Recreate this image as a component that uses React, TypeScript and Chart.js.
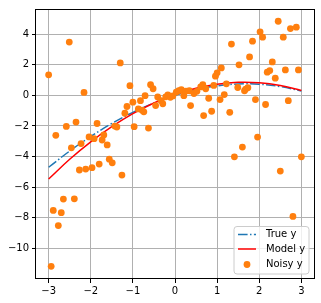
import React, { useEffect, useRef } from "react";
import { Chart, registerables } from "chart.js";

Chart.register(...registerables);

const lineX = [-3, -2.5, -2, -1.5, -1, -0.5, 0, 0.5, 1, 1.5, 2, 2.5, 3];
const trueY = [-4.7, -3.64, -2.69, -1.84, -1.11, -0.5, 0.0, 0.37, 0.62, 0.74, 0.72, 0.57, 0.28];
const modelY = [-5.47, -4.18, -3.04, -2.05, -1.2, -0.5, 0.05, 0.46, 0.73, 0.85, 0.82, 0.64, 0.32];

const noisyX = [
  -3.0, -2.94, -2.89, -2.83, -2.77, -2.7, -2.65, -2.58, -2.51, -2.46, -2.39, -2.35, -2.27, -2.23,
  -2.16, -2.12, -2.04, -1.97, -1.92, -1.85, -1.8, -1.73, -1.69, -1.61, -1.56, -1.49, -1.43, -1.38,
  -1.3, -1.26, -1.19, -1.14, -1.07, -1.0, -0.97, -0.87, -0.82, -0.78, -0.74, -0.71, -0.63, -0.58,
  -0.52, -0.46, -0.41, -0.33, -0.29, -0.22, -0.17, -0.11, -0.05, 0.03, 0.09, 0.15, 0.21, 0.26,
  0.34, 0.37, 0.45, 0.52, 0.61, 0.66, 0.68, 0.73, 0.8, 0.87, 0.92, 0.96, 1.0, 1.07, 1.1, 1.17,
  1.22, 1.3, 1.34, 1.41, 1.49, 1.52, 1.6, 1.65, 1.68, 1.73, 1.77, 1.84, 1.91, 1.96, 2.02, 2.08,
  2.15, 2.19, 2.25, 2.31, 2.38, 2.45, 2.5, 2.57, 2.62, 2.69, 2.74, 2.8, 2.88, 2.93, 3.0,
];
const noisyY = [
  1.34, -11.17, -7.52, -2.61, -8.51, -7.67, -6.78, -2.03, 3.48, -3.43, -6.76, -1.75, -4.88, -3.15,
  0.19, -4.82, -2.72, -4.73, -2.83, -1.84, -4.49, -2.92, -2.59, -3.24, -4.17, -4.41, -2.01, -2.07,
  2.12, -5.21, -1.17, -0.73, 0.63, -0.45, -2.05, -0.89, -0.35, -0.97, -1.08, -0.02, -2.14, 0.69,
  0.43, -0.67, -0.11, -0.35, -0.55, -0.1, 0.02, -0.13, -0.04, 0.21, 0.3, 0.37, -0.02, 0.28,
  0.3, -0.67, 0.12, 0.26, 0.55, 0.69, -1.32, 0.43, -0.19, -1.04, 0.65, 1.25, 1.47, -0.28, 1.79, 0.05,
  0.75, -1.11, 3.35, -4.02, 0.51, 1.99, -3.38, 0.3, 0.41, 0.5, 2.51, 3.54, -0.28, -2.73, 4.15, 3.8,
  -0.6, 1.51, 1.62, 2.18, 1.12, 4.84, -4.95, 3.8, 1.66, -0.35, 4.36, -7.91, 4.45, 1.66, -4.02,
];

const xTicks = [-3, -2, -1, 0, 1, 2, 3];
const yTicks = [-10, -8, -6, -4, -2, 0, 2, 4];
const legendLabels = ["True y", "Model y", "Noisy y"];

const BLUE = "#1f77b4";
const RED = "#ff0000";
const ORANGE = "#ff7f0e";
const FONT = '"DejaVu Sans", sans-serif';
const DASHDOT = [9.6, 2.4, 1.5, 2.4];
const DOT_R = 3.4;

const fmt = (v: number) => String(v).replace("-", "\u2212");

const framePlugin = {
  id: "frame",
  afterDatasetsDraw(chart: any) {
    const { ctx, chartArea } = chart;
    const { left, top, right, bottom } = chartArea;
    ctx.save();
    ctx.strokeStyle = "#000";
    ctx.lineWidth = 1;
    ctx.strokeRect(Math.round(left) - 0.5, Math.round(top) + 0.5, Math.round(right - left) + 1, Math.round(bottom - top) - 1);
    ctx.restore();
  },
  afterDraw(chart: any) {
    const { ctx, chartArea } = chart;
    const bx = chartArea.right - 80;
    const by = chartArea.bottom - 53;
    const bw = 75;
    const bh = 48;
    ctx.save();
    ctx.beginPath();
    const r = 3;
    ctx.moveTo(bx + r, by + 0.5);
    ctx.arcTo(bx + bw, by + 0.5, bx + bw, by + bh, r);
    ctx.arcTo(bx + bw, by + bh, bx, by + bh, r);
    ctx.arcTo(bx, by + bh, bx, by, r);
    ctx.arcTo(bx, by + 0.5, bx + bw, by + 0.5, r);
    ctx.closePath();
    ctx.fillStyle = "rgba(255,255,255,0.8)";
    ctx.fill();
    ctx.strokeStyle = "#cccccc";
    ctx.lineWidth = 1;
    ctx.stroke();

    const rows = [by + 8.5, by + 23, by + 38.5];
    const sx0 = bx + 4;
    const sx1 = bx + 22;
    ctx.lineWidth = 1.5;
    ctx.strokeStyle = BLUE;
    ctx.setLineDash(DASHDOT);
    ctx.beginPath();
    ctx.moveTo(sx0, rows[0]);
    ctx.lineTo(sx1, rows[0]);
    ctx.stroke();
    ctx.setLineDash([]);
    ctx.strokeStyle = RED;
    ctx.beginPath();
    ctx.moveTo(sx0, rows[1]);
    ctx.lineTo(sx1, rows[1]);
    ctx.stroke();
    ctx.fillStyle = ORANGE;
    ctx.beginPath();
    ctx.arc((sx0 + sx1) / 2, rows[2], DOT_R, 0, Math.PI * 2);
    ctx.fill();

    ctx.fillStyle = "#000";
    ctx.font = `10px ${FONT}`;
    ctx.textBaseline = "middle";
    ctx.textAlign = "left";
    legendLabels.forEach((t, i) => ctx.fillText(t, bx + 32, rows[i]));
    ctx.restore();
  },
};

export default function App() {
  const ref = useRef<HTMLCanvasElement | null>(null);
  useEffect(() => {
    if (!ref.current) return;
    const chart = new Chart(ref.current, {
      type: "scatter",
      data: {
        datasets: [
          {
            type: "line",
            label: legendLabels[0],
            data: lineX.map((x, i) => ({ x, y: trueY[i] })),
            borderColor: BLUE,
            borderWidth: 1.5,
            borderDash: DASHDOT,
            pointRadius: 0,
            tension: 0.4,
            fill: false,
            order: 3,
          },
          {
            type: "line",
            label: legendLabels[1],
            data: lineX.map((x, i) => ({ x, y: modelY[i] })),
            borderColor: RED,
            borderWidth: 1.5,
            pointRadius: 0,
            tension: 0.4,
            fill: false,
            order: 2,
          },
          {
            type: "scatter",
            label: legendLabels[2],
            data: noisyX.map((x, i) => ({ x, y: noisyY[i] })),
            backgroundColor: ORANGE,
            borderWidth: 0,
            pointRadius: DOT_R,
            order: 1,
          },
        ],
      } as any,
      options: {
        animation: false,
        responsive: false,
        layout: { padding: { top: 7, right: 7, left: 0, bottom: 0 } },
        plugins: { legend: { display: false }, tooltip: { enabled: false } },
        scales: {
          x: {
            type: "linear",
            min: -3.3,
            max: 3.3,
            afterBuildTicks: (s: any) => {
              s.ticks = xTicks.map((v) => ({ value: v }));
            },
            afterFit: (s: any) => {
              s.height = 24;
            },
            border: { display: false },
            grid: { color: "#b0b0b0", lineWidth: 1, tickColor: "#000", tickLength: 4, drawTicks: true },
            ticks: {
              padding: 2,
              color: "#000",
              font: { family: FONT, size: 10 },
              maxRotation: 0,
              callback: (v: any) => fmt(Number(v)),
            },
          },
          y: {
            type: "linear",
            min: -12.0,
            max: 5.64,
            afterBuildTicks: (s: any) => {
              s.ticks = yTicks.map((v) => ({ value: v }));
            },
            afterFit: (s: any) => {
              s.width = 36;
            },
            border: { display: false },
            grid: { color: "#b0b0b0", lineWidth: 1, tickColor: "#000", tickLength: 4, drawTicks: true },
            ticks: {
              padding: 3,
              color: "#000",
              font: { family: FONT, size: 10 },
              callback: (v: any) => fmt(Number(v)),
            },
          },
        },
      } as any,
      plugins: [framePlugin],
    });
    return () => chart.destroy();
  }, []);
  return (
    <div style={{ position: "fixed", left: 0, top: 0, width: 321, height: 303, background: "#fff" }}>
      <canvas ref={ref} width={321} height={303} style={{ display: "block" }} />
    </div>
  );
}
